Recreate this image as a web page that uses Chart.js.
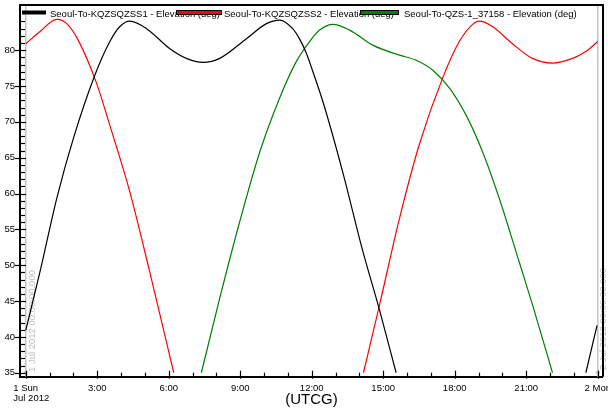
<!DOCTYPE html>
<html><head><meta charset="utf-8">
<script src="https://cdn.jsdelivr.net/npm/chart.js@4/dist/chart.umd.min.js"></script>
<style>html,body{margin:0;padding:0;background:#fff;overflow:hidden}#wrap{width:608px;height:409px;position:relative}</style>
</head><body><div id="wrap"><canvas id="c" width="608" height="409"></canvas></div>
<script>
// ---- data ----
const seriesNames = ["Seoul-To-KQZSQZSS1 - Elevation (deg)", "Seoul-To-KQZSQZSS2 - Elevation (deg)", "Seoul-To-QZS-1_37158 - Elevation (deg)"];
const seriesColors = ["#000000", "#ff0000", "#008000"];
// KQZSQZSS1 (hours since 1 Jul 2012 00:00 UTCG)
const ss1HoursA = [0, 0.6, 1.3, 2.0, 2.9, 3.53, 3.95, 4.37, 5.07, 6.05, 6.74, 7.44, 8.14, 9.26, 10.1, 10.65, 11.2, 11.5, 11.77, 12.1, 12.47, 13.3, 14.14, 14.84, 15.54];
const ss1ElevA  = [40.9, 49.1, 59.3, 67.7, 76.5, 81.2, 83.3, 84.05, 83.0, 80.2, 78.85, 78.3, 78.85, 81.6, 83.7, 84.2, 83.0, 81.5, 79.6, 76.5, 72.8, 63.0, 52.0, 43.8, 35.0];
const ss1HoursB = [23.5, 23.97];
const ss1ElevB  = [35.0, 41.6];
// KQZSQZSS2
const ss2HoursA = [0, 0.6, 1.3, 1.72, 2.2, 2.97, 3.53, 4.37, 5.2, 6.21];
const ss2ElevA  = [80.9, 82.6, 84.3, 83.7, 81.4, 75.4, 69.5, 60.2, 49.1, 35.0];
const ss2HoursB = [14.17, 14.84, 15.68, 16.51, 17.49, 18.19, 18.75, 19.03, 19.58, 20.42, 21.26, 22.1, 22.94, 23.5, 24.0];
const ss2ElevB  = [35.0, 44.4, 56.5, 66.8, 76.1, 81.2, 83.6, 84.05, 83.3, 80.9, 78.85, 78.2, 78.85, 79.8, 81.2];
// QZS-1_37158
const qzsHours = [7.37, 8.14, 8.98, 9.82, 10.65, 11.35, 11.91, 12.33, 12.89, 13.59, 14.56, 15.68, 16.38, 17.08, 17.78, 18.48, 19.17, 19.87, 20.57, 21.27, 22.1];
const qzsElev  = [35.0, 45.4, 56.1, 65.8, 73.3, 78.4, 81.2, 82.8, 83.6, 82.8, 80.7, 79.3, 78.6, 77.2, 74.7, 70.9, 65.8, 59.3, 51.9, 44.4, 35.0];
// axes
const xTickHours = [0, 3, 6, 9, 12, 15, 18, 21, 24];
const xTickLabels = [["1 Sun", "Jul 2012"], "3:00", "6:00", "9:00", "12:00", "15:00", "18:00", "21:00", "2 Mon"];
const yTickValues = [35, 40, 45, 50, 55, 60, 65, 70, 75, 80];
const xTitle = "(UTCG)";
const markerHours = [0, 24];
const markerLabels = ["1 Jul 2012 00:00:00.000", "2 Jul 2012 00:00:00.000"];

// ---- build ----
function pts(h, v) { return h.map((x, i) => ({x: x, y: v[i]})); }
function gapJoin(a, b, gapX) { return a.concat([{x: gapX, y: null}], b); }
const FONT = '"Liberation Sans", Arial, sans-serif';

const dsData = [
  gapJoin(pts(ss1HoursA, ss1ElevA), pts(ss1HoursB, ss1ElevB), 20),
  gapJoin(pts(ss2HoursA, ss2ElevA), pts(ss2HoursB, ss2ElevB), 10),
  pts(qzsHours, qzsElev)
];

const decor = {
  id: 'decor',
  beforeDatasetsDraw(chart) {
    const {ctx, scales: {x, y}, chartArea: a} = chart;
    ctx.save();
    ctx.strokeStyle = '#c4c4c4'; ctx.fillStyle = '#c4c4c4'; ctx.lineWidth = 1.5;
    markerHours.forEach((h) => {
      const px = x.getPixelForValue(h);
      ctx.beginPath(); ctx.moveTo(px, a.top + 1); ctx.lineTo(px, a.bottom); ctx.stroke();
      ctx.beginPath(); ctx.arc(px, y.getPixelForValue(35), 2, 0, Math.PI * 2); ctx.fill();
    });
    ctx.font = '9.5px ' + FONT; ctx.fillStyle = '#bdbdbd'; ctx.textBaseline = 'alphabetic'; ctx.textAlign = 'left';
    const offs = [[9.3, 372], [8.0, 370]];
    markerLabels.forEach((t, i) => {
      const px = x.getPixelForValue(markerHours[i]);
      ctx.save(); ctx.translate(px + offs[i][0], offs[i][1]); ctx.rotate(-Math.PI / 2);
      ctx.fillText(t, 0, 0); ctx.restore();
    });
    ctx.restore();
  },
  afterDraw(chart) {
    const {ctx, scales: {x, y}, chartArea: a} = chart;
    ctx.save();
    ctx.strokeStyle = '#000'; ctx.lineWidth = 1.2;
    // y ticks
    for (let v = 35; v <= 84; v++) {
      const py = Math.round(y.getPixelForValue(v)) + 0.5;
      ctx.beginPath();
      if (v % 5 === 0) { ctx.moveTo(a.left - 5, py); ctx.lineTo(a.left + 6, py); }
      else { ctx.moveTo(a.left, py); ctx.lineTo(a.left + 5, py); }
      ctx.stroke();
    }
    // x ticks
    for (let h = 0; h <= 24; h++) {
      const px = Math.round(x.getPixelForValue(h)) + 0.5;
      ctx.beginPath();
      if (h % 3 === 0) { ctx.moveTo(px, a.bottom - 6); ctx.lineTo(px, a.bottom + 2); }
      else { ctx.moveTo(px, a.bottom - 4); ctx.lineTo(px, a.bottom); }
      ctx.stroke();
    }
    // frame top & right
    ctx.lineWidth = 2;
    ctx.beginPath(); ctx.moveTo(a.left - 1, a.top); ctx.lineTo(a.right, a.top); ctx.lineTo(a.right, a.bottom); ctx.stroke();
    // x labels
    ctx.font = '9.5px ' + FONT; ctx.fillStyle = '#000'; ctx.textBaseline = 'alphabetic';
    xTickHours.forEach((h, i) => {
      const px = x.getPixelForValue(h); const lab = xTickLabels[i];
      if (Array.isArray(lab)) {
        ctx.textAlign = 'left';
        lab.forEach((l, j) => ctx.fillText(l, px - 12.4, a.bottom + 14.3 + j * 10));
      } else {
        ctx.textAlign = 'center';
        ctx.fillText(lab, px, a.bottom + 14.3);
      }
    });
    // legend
    const ds = chart.data.datasets;
    ctx.textAlign = 'left';
    ctx.fillStyle = ds[0].borderColor; ctx.fillRect(22, 10.5, 24, 4);
    ctx.fillStyle = '#000'; ctx.fillText(ds[0].label, 50, 16.5);
    ctx.lineWidth = 1; ctx.strokeStyle = '#000';
    ctx.fillStyle = ds[1].borderColor; ctx.fillRect(176.5, 10.5, 45, 4); ctx.strokeRect(176.5, 10.5, 45, 4);
    ctx.fillStyle = '#000'; ctx.fillText(ds[1].label, 224, 16.5);
    ctx.fillStyle = ds[2].borderColor; ctx.fillRect(360.5, 10.5, 38, 4); ctx.strokeRect(360.5, 10.5, 38, 4);
    ctx.fillStyle = '#000'; ctx.fillText(ds[2].label, 404, 16.5);
    ctx.restore();
  }
};

new Chart(document.getElementById('c'), {
  type: 'line',
  data: {
    datasets: dsData.map((d, i) => ({
      label: seriesNames[i], data: d, borderColor: seriesColors[i], backgroundColor: seriesColors[i],
      borderWidth: 1.2, pointRadius: 0, fill: false, spanGaps: false, cubicInterpolationMode: 'monotone'
    }))
  },
  options: {
    responsive: false, animation: false, devicePixelRatio: 1,
    layout: {padding: {top: 5, right: 5, left: 0, bottom: 0}},
    plugins: {legend: {display: false}, tooltip: {enabled: false}},
    scales: {
      x: {
        type: 'linear', min: -0.24, max: 24.22,
        grid: {display: false, lineWidth: 0, drawTicks: false, tickLength: 0},
        border: {display: true, color: '#000', width: 2},
        ticks: {display: false},
        afterBuildTicks: (s) => { s.ticks = xTickHours.map(v => ({value: v})); },
        afterFit: (s) => { s.height = 32.3; s.paddingLeft = 0; s.paddingRight = 0; },
        title: {display: true, text: xTitle, color: '#000', font: {family: FONT, size: 15}, padding: {top: 0, bottom: 0}}
      },
      y: {
        type: 'linear', min: 34.45, max: 86.3,
        grid: {display: false, lineWidth: 0, drawTicks: false, tickLength: 0},
        border: {display: true, color: '#000', width: 2},
        ticks: {color: '#000', font: {family: FONT, size: 9.5}, padding: 5},
        afterBuildTicks: (s) => { s.ticks = yTickValues.map(v => ({value: v})); },
        afterFit: (s) => { s.width = 20; s.paddingTop = 0; s.paddingBottom = 0; }
      }
    }
  },
  plugins: [decor]
});
</script></body></html>
